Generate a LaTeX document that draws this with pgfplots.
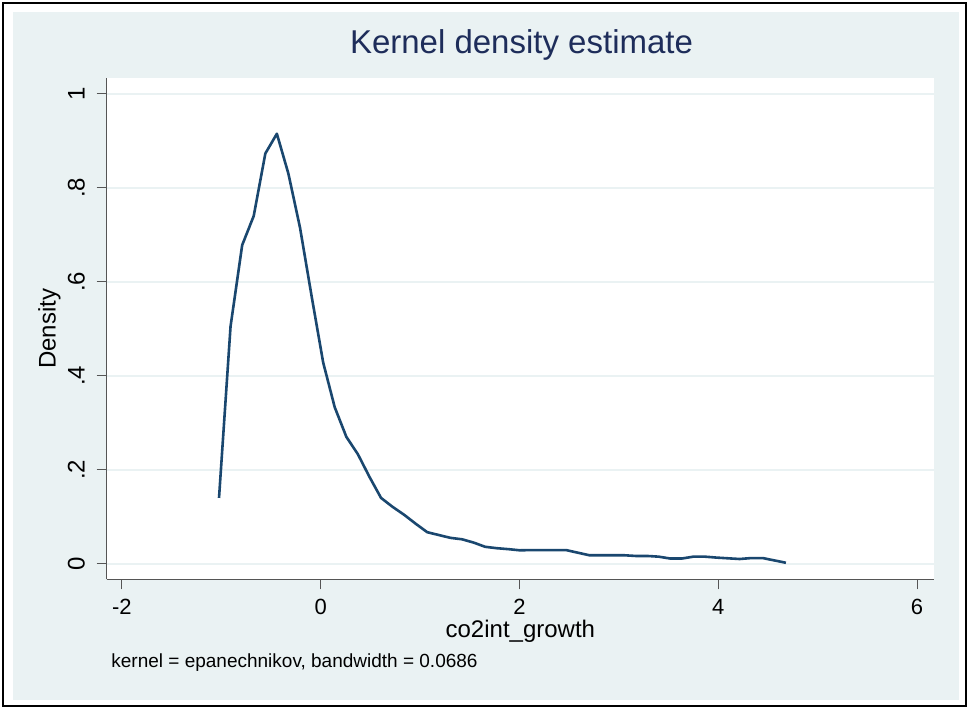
\documentclass[border=0pt]{standalone}
\usepackage{pgfplots}
\pgfplotsset{compat=1.18}
\usepackage{fontspec}
\setmainfont{Liberation Sans}
\definecolor{bgc}{RGB}{234,242,243}
\definecolor{gridc}{RGB}{234,242,243}
\definecolor{axc}{RGB}{85,85,85}
\definecolor{linec}{RGB}{26,71,111}
\definecolor{titlec}{RGB}{30,45,90}
\begin{document}
\begin{tikzpicture}
\fill[white] (0pt,0pt) rectangle (484.5pt,354.5pt);
\draw[black, line width=1pt] (1.5pt,1.5pt) rectangle (483pt,353pt);
\fill[bgc] (6.5pt,4.5pt) rectangle (479.5pt,348.5pt);
\begin{axis}[
  at={(53.35pt,64.85pt)}, anchor=south west,
  scale only axis, width=413.65pt, height=250.5pt,
  xmin=-2.153, xmax=6.17, ymin=-0.0332, ymax=1.033,
  axis background/.style={fill=white},
  axis lines*=left,
  axis line style={axc, line width=0.5pt},
  tick align=outside, major tick length=5pt,
  tick style={axc, line width=0.5pt},
  xtick={-2,0,2,4,6},
  ytick={0,0.2,0.4,0.6,0.8,1},
  yticklabels={0,.2,.4,.6,.8,1},
  ymajorgrids, grid style={gridc, line width=1pt},
  /pgf/number format/assume math mode=true,
  xticklabel style={anchor=north, inner sep=0pt, font=\fontsize{11}{13}\selectfont},
  xticklabel shift=4.7pt,
  yticklabel style={rotate=90, anchor=base, inner sep=0pt, font=\fontsize{12}{14}\selectfont},
  yticklabel shift=6pt,
  xlabel={co2int\_growth}, ylabel={Density},
  label style={font=\fontsize{12}{14}\selectfont},
  xlabel style={at={(axis description cs:0.5,-0.117)}, anchor=base},
  ylabel style={at={(axis description cs:-0.0691,0.5)}, anchor=center},
  title={Kernel density estimate},
  title style={at={(axis description cs:0.5014,1.0265)}, anchor=base, font=\fontsize{16.5}{19}\selectfont, text=titlec},
]
\addplot[linec, line width=1.3pt, line join=round] coordinates {
(-1.023,0.140) (-0.907,0.505) (-0.790,0.678) (-0.674,0.740) (-0.557,0.873)
(-0.441,0.915) (-0.325,0.830) (-0.208,0.715) (-0.092,0.570) (0.025,0.428)
(0.141,0.333) (0.258,0.270) (0.374,0.233) (0.490,0.185) (0.607,0.140)
(0.723,0.121) (0.840,0.104) (0.956,0.085) (1.072,0.067) (1.189,0.061)
(1.305,0.055) (1.421,0.052) (1.538,0.045) (1.654,0.036) (1.771,0.033)
(1.887,0.031) (2.003,0.0285) (2.120,0.029) (2.236,0.029) (2.352,0.029)
(2.469,0.029) (2.585,0.0235) (2.702,0.018) (2.818,0.018) (2.934,0.018)
(3.051,0.018) (3.167,0.0165) (3.283,0.0165) (3.400,0.015) (3.516,0.011)
(3.633,0.011) (3.749,0.015) (3.865,0.015) (3.982,0.013) (4.098,0.0115)
(4.215,0.010) (4.331,0.012) (4.447,0.012) (4.564,0.007) (4.680,0.002)
};
\end{axis}
\node[anchor=base west, inner sep=0pt, font=\fontsize{9.5}{11}\selectfont] at (55.5pt,21pt) {kernel = epanechnikov, bandwidth = 0.0686};
\end{tikzpicture}
\end{document}
